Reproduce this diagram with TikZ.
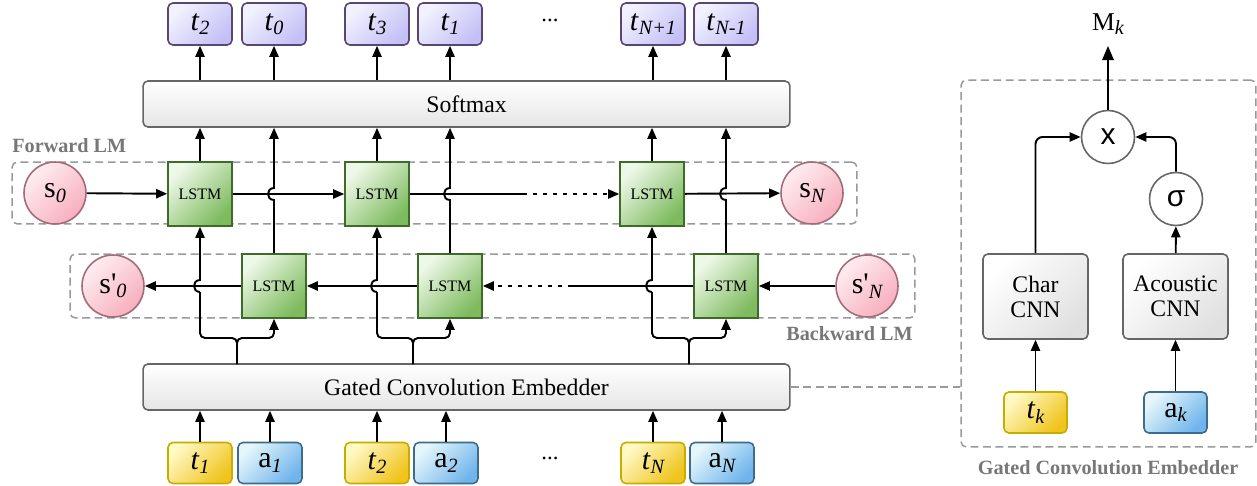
\documentclass[tikz,border=0pt]{standalone}
\usepackage{fontspec}
\setmainfont{Liberation Serif}
\newfontfamily\opfont{Liberation Sans}
\usetikzlibrary{arrows.meta}

\definecolor{outdraw}{HTML}{5A4672}
\definecolor{outlight}{HTML}{F2F2FF}
\definecolor{outdark}{HTML}{C4C0F6}
\definecolor{lstmdraw}{HTML}{3E6B27}
\definecolor{lstmlight}{HTML}{EEF8E8}
\definecolor{lstmdark}{HTML}{7DBB5E}
\definecolor{statedraw}{HTML}{A36B78}
\definecolor{statelight}{HTML}{FFEEF1}
\definecolor{statedark}{HTML}{F7AEBE}
\definecolor{tokdraw}{HTML}{C6AE00}
\definecolor{toklight}{HTML}{FFF9C4}
\definecolor{tokdark}{HTML}{F0C41C}
\definecolor{auddraw}{HTML}{3F6C8C}
\definecolor{audlight}{HTML}{E6F7FB}
\definecolor{auddark}{HTML}{6FB4EC}
\definecolor{boxdraw}{HTML}{666666}
\definecolor{dashgray}{HTML}{9A9A9A}
\definecolor{lblgray}{HTML}{777777}

\newcommand{\lo}[1]{\raisebox{-2.6pt}{\fontsize{11.5}{11.5}\selectfont\itshape #1}}

\tikzset{
  lin/.style={line width=1.1pt},
  arr/.style={line width=1.1pt, -{Triangle[length=6.3pt,width=5.2pt]}},
  bigarr/.style={line width=1.1pt, -{Triangle[length=8pt,width=6.5pt]}},
  dots/.style={dash pattern=on 2.3pt off 3.4pt},
  grad/.style 2 args={top color=#1, bottom color=#2, shading angle=45},
  outb/.style={draw=outdraw, line width=0.9pt, rounded corners=2.8pt, grad={outlight}{outdark},
    minimum width=1.28cm, minimum height=0.84cm, inner sep=0pt, font=\fontsize{17}{17}\selectfont},
  tokb/.style={draw=tokdraw, line width=0.9pt, rounded corners=2.8pt, grad={toklight}{tokdark},
    minimum width=1.28cm, minimum height=0.82cm, inner sep=0pt, font=\fontsize{17}{17}\selectfont},
  audb/.style={draw=auddraw, line width=0.9pt, rounded corners=2.8pt, grad={audlight}{auddark},
    minimum width=1.28cm, minimum height=0.82cm, inner sep=0pt, font=\fontsize{17}{17}\selectfont},
  lstm/.style={draw=lstmdraw, line width=0.9pt, grad={lstmlight}{lstmdark},
    minimum size=1.28cm, inner sep=0pt, font=\fontsize{9.1}{9.1}\selectfont},
  state/.style={circle, draw=statedraw, line width=0.9pt, grad={statelight}{statedark},
    minimum size=1.24cm, inner sep=0pt, font=\fontsize{17}{17}\selectfont},
  wideb/.style={draw=boxdraw, line width=0.9pt, rounded corners=2.8pt, top color=white, bottom color=black!10,
    minimum width=12.94cm, minimum height=0.92cm, inner sep=0pt, font=\fontsize{13.5}{15}\selectfont},
  cnnb/.style={draw=boxdraw, line width=0.9pt, rounded corners=2.8pt, grad={white}{black!12},
    minimum width=2.1cm, minimum height=1.7cm, inner sep=0pt, align=center,
    font=\fontsize{13.5}{14.3}\selectfont},
  op/.style={circle, draw=boxdraw, line width=0.9pt, fill=white, minimum size=1.06cm, inner sep=0pt,
    font=\opfont\fontsize{17}{17}\selectfont},
  dbox/.style={draw=dashgray, line width=0.85pt, dash pattern=on 4.5pt off 2.6pt, rounded corners=3pt, inner sep=0pt},
  lbl/.style={text=lblgray, font=\bfseries\fontsize{11.5}{11.5}\selectfont, inner sep=0pt}
}

\begin{document}
\begin{tikzpicture}[x=0.02cm, y=-0.02cm]
  \useasboundingbox (0,0) rectangle (1257,486);

  \node[dbox, minimum width=16.9cm, minimum height=1.24cm] (fwd) at (434.5,193) {};
  \node[dbox, minimum width=16.9cm, minimum height=1.28cm] (bwd) at (492.5,286) {};
  \node[dbox, minimum width=5.9cm, minimum height=7.34cm] (geb) at (1108.5,263.5) {};
  \node[lbl, anchor=west] (fl) at (12,146) {Forward LM};
  \node[lbl, anchor=east] (bl) at (913,334) {Backward LM};
  \node[lbl] (gl) at (1108,468) {Gated Convolution Embedder};

  \node[outb] (o2) at (200,24) {\textit{t}\lo{2}};
  \node[outb] (o0) at (274,24) {\textit{t}\lo{0}};
  \node[outb] (o3) at (377,24) {\textit{t}\lo{3}};
  \node[outb] (o1) at (450,24) {\textit{t}\lo{1}};
  \node (od) at (550,20) {\fontsize{13}{13}\selectfont ...};
  \node[outb] (oN1) at (653,24) {\textit{t}\lo{N+1}};
  \node[outb] (oNm) at (726,24) {\textit{t}\lo{N-1}};

  \node[wideb] (sm) at (466.5,104) {Softmax};

  \node[state] (s0) at (55,193) {s\lo{0}};
  \node[lstm] (f1) at (200,194) {LSTM};
  \node[lstm] (f2) at (377,194) {LSTM};
  \node[lstm] (f3) at (652,194) {LSTM};
  \node[state] (sN) at (812,193) {s\lo{N}};

  \node[state] (sb0) at (113,286) {s\textquotesingle\lo{0}};
  \node[lstm] (b1) at (274,286) {LSTM};
  \node[lstm] (b2) at (450,286) {LSTM};
  \node[lstm] (b3) at (726,286) {LSTM};
  \node[state] (sbN) at (867,286) {s\textquotesingle\lo{N}};

  \node[wideb] (emb) at (466.5,387) {Gated Convolution Embedder};

  \node[tokb] (t1) at (200,463) {\textit{t}\lo{1}};
  \node[audb] (a1) at (270,463) {a\lo{1}};
  \node[tokb] (t2) at (377,463) {\textit{t}\lo{2}};
  \node[audb] (a2) at (446,463) {a\lo{2}};
  \node (id) at (550,458) {\fontsize{13}{13}\selectfont ...};
  \node[tokb] (tN) at (653,463) {\textit{t}\lo{N}};
  \node[audb] (aN) at (722,463) {a\lo{N}};

  \coordinate (fd) at (523,194);
  \coordinate (bd) at (572,286);

  \foreach \n in {o2,o0,o3,o1,oN1,oNm}
    \draw[arr] (sm.north -| \n) -- (\n.south);
  \foreach \n in {t1,a1,t2,a2,tN,aN}
    \draw[arr] (\n.north) -- (\n |- emb.south);

  \draw[arr] (s0) -- (f1);
  \draw[arr] (f1) -- (f2);
  \draw[lin] (f2) -- (fd);
  \draw[arr, dots] (fd) -- (f3);
  \draw[arr] (f3) -- (sN);

  \draw[arr] (sbN) -- (b3);
  \draw[lin] (b3) -- (bd);
  \draw[arr, dots] (bd) -- (b2);
  \draw[arr] (b2) -- (b1);
  \draw[arr] (b1) -- (sb0);

  \foreach \g/\l/\r/\lf/\rb in {237/200/274/f1/b1, 413/377/450/f2/b2, 689/652/726/f3/b3} {
    \draw[lin, rounded corners=2.8pt] (\g,364) -- (\g,338) -- (\l,338) -- (\l,292);
    \draw[arr] (\l,292) .. controls (\l-8,292) and (\l-8,280) .. (\l,280) -- (\lf.south);
    \draw[arr, rounded corners=2.8pt] (\g,364) -- (\g,338) -- (\r,338) -- (\rb.south);
    \draw[arr] (\lf.north) -- (\lf |- sm.south);
    \draw[arr] (\rb.north) -- (\r,200) .. controls (\r-8,200) and (\r-8,188) .. (\r,188) -- (\rb |- sm.south);
  }

  \draw[dbox] (emb.east) -- (emb.east -| geb.west);

  \node[op] (mul) at (1108,137) {x};
  \node[op] (sig) at (1176,199) {σ};
  \node[cnnb] (cc) at (1035.5,296.5) {Char\\CNN};
  \node[cnnb] (ac) at (1175.5,296.5) {Acoustic\\CNN};
  \node[tokb, minimum width=1.26cm] (tk) at (1035.5,412.5) {\textit{t}\lo{k}};
  \node[audb, minimum width=1.26cm] (ak) at (1175.5,412.5) {a\lo{k}};
  \node[font=\fontsize{14.6}{14.6}\selectfont] (mk) at (1108,24) {M\lo{k}};
  \coordinate (mtop) at (1108,46);

  \draw[arr] (tk) -- (cc);
  \draw[arr] (ak) -- (ac);
  \draw[arr] (ac) -- (sig);
  \draw[arr, rounded corners=4pt] (cc.north) |- (mul.west);
  \draw[arr, rounded corners=4pt] (sig.north) |- (mul.east);
  \draw[bigarr] (mul.north) -- (mtop);
\end{tikzpicture}
\end{document}
